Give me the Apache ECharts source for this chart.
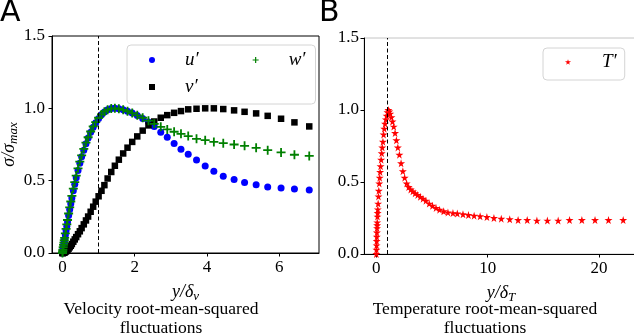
<!DOCTYPE html>
<html>
<head>
<meta charset="utf-8">
<script src="https://cdn.jsdelivr.net/npm/echarts@6/dist/echarts.min.js"></script>
<style>
  html, body { margin: 0; padding: 0; background: #fff; }
  #chart { width: 634px; height: 334px; }
</style>
</head>
<body>
<div id="chart"></div>
<script>
// wall-normal positions, panel A (y / delta_nu)
const yGridA = [0, 0.005, 0.01, 0.02, 0.03, 0.04, 0.05, 0.06, 0.08, 0.10, 0.12, 0.14, 0.17, 0.20, 0.23, 0.26,
  0.30, 0.34, 0.38, 0.43, 0.48, 0.53, 0.59, 0.65, 0.71, 0.78, 0.85, 0.92, 1.00, 1.08, 1.16, 1.25, 1.35, 1.45,
  1.56, 1.68, 1.80, 1.93, 2.07, 2.22, 2.38, 2.54, 2.72, 2.90, 3.09, 3.28, 3.48, 3.71, 3.95, 4.19, 4.45, 4.75,
  5.04, 5.36, 5.68, 6.05, 6.42, 6.83]
const uRms = [0, 0.01, 0.02, 0.035, 0.05, 0.065, 0.08, 0.095, 0.125, 0.155, 0.185, 0.215, 0.26, 0.30, 0.34, 0.38,
  0.43, 0.475, 0.52, 0.57, 0.62, 0.665, 0.71, 0.755, 0.795, 0.835, 0.87, 0.90, 0.93, 0.955, 0.975, 0.99, 0.998, 1.0,
  0.997, 0.99, 0.98, 0.967, 0.95, 0.93, 0.905, 0.875, 0.835, 0.80, 0.757, 0.718, 0.683, 0.642, 0.602, 0.565, 0.531, 0.508,
  0.487, 0.471, 0.457, 0.450, 0.443, 0.436]
const vRms = [0, 0, 0, 0.001, 0.002, 0.003, 0.004, 0.005, 0.008, 0.012, 0.016, 0.021, 0.03, 0.04, 0.05, 0.062,
  0.078, 0.094, 0.11, 0.13, 0.15, 0.172, 0.198, 0.225, 0.252, 0.285, 0.32, 0.355, 0.392, 0.43, 0.469, 0.515, 0.56, 0.603,
  0.645, 0.688, 0.728, 0.768, 0.806, 0.846, 0.882, 0.909, 0.935, 0.953, 0.969, 0.981, 0.993, 0.997, 1.0, 1.0, 0.995, 0.986,
  0.976, 0.965, 0.948, 0.928, 0.903, 0.875]
const wRms = [0, 0.012, 0.024, 0.04, 0.056, 0.072, 0.088, 0.104, 0.135, 0.167, 0.198, 0.228, 0.273, 0.315, 0.356, 0.395,
  0.445, 0.49, 0.535, 0.585, 0.632, 0.675, 0.72, 0.763, 0.80, 0.84, 0.875, 0.905, 0.935, 0.958, 0.977, 0.99, 0.998, 1.0,
  0.997, 0.99, 0.98, 0.967, 0.952, 0.935, 0.915, 0.893, 0.872, 0.854, 0.838, 0.824, 0.808, 0.789, 0.78, 0.768, 0.759, 0.75,
  0.741, 0.727, 0.711, 0.695, 0.679, 0.671]

// panel B (y / delta_T)
const yGridT = [0, 0.01, 0.02, 0.03, 0.04, 0.05, 0.06, 0.07, 0.08, 0.10, 0.115, 0.13, 0.16, 0.19, 0.22, 0.26, 0.30, 0.34,
  0.38, 0.43, 0.48, 0.53, 0.59, 0.65, 0.71, 0.78, 0.85, 0.92, 1.00, 1.08, 1.16, 1.25, 1.35, 1.45, 1.56, 1.68, 1.80, 1.93,
  2.07, 2.22, 2.38, 2.54, 2.72, 2.90, 3.09, 3.28, 3.48, 3.71, 3.95, 4.19, 4.45, 4.75, 5.04, 5.36, 5.68, 6.05, 6.43, 6.88,
  7.27, 7.78, 8.27, 8.78, 9.32, 9.93, 10.56, 11.22, 11.98, 12.73, 13.55, 14.42, 15.36, 16.33, 17.35, 18.46, 19.64, 20.85, 22.17]
const tRms = [0, 0.03, 0.06, 0.09, 0.12, 0.15, 0.18, 0.20, 0.22, 0.26, 0.285, 0.31, 0.35, 0.40, 0.44, 0.49, 0.53, 0.57,
  0.61, 0.655, 0.70, 0.74, 0.78, 0.83, 0.87, 0.905, 0.935, 0.96, 0.985, 1.0, 0.99, 0.975, 0.95, 0.92, 0.885, 0.84, 0.79, 0.74,
  0.69, 0.63, 0.575, 0.53, 0.49, 0.465, 0.448, 0.435, 0.422, 0.41, 0.397, 0.384, 0.37, 0.35, 0.335, 0.32, 0.308, 0.297, 0.289,
  0.284, 0.281, 0.276, 0.271, 0.266, 0.262, 0.257, 0.25, 0.245, 0.241, 0.236, 0.236, 0.232, 0.232, 0.232, 0.236, 0.236, 0.236,
  0.236, 0.236]

const xTicksA = [0, 2, 4, 6]
const xTicksB = [0, 10, 20]

const serif = 'Liberation Serif'
const plusPath = 'path://M4,0H6V4H10V6H6V10H4V6H0V4H4Z'
const starPath = 'path://M50,0L61,35L98,35L68,57L79,91L50,70L21,91L32,57L2,35L39,35Z'

const pairs = (xs, ys) => xs.map((x, i) => [x, ys[i]])

const mathRich = {
  m: { fontFamily: serif, fontStyle: 'italic', fontSize: 18, lineHeight: 20, verticalAlign: 'top', color: '#000' },
  s: { fontFamily: serif, fontStyle: 'italic', fontSize: 13, lineHeight: 14, verticalAlign: 'bottom', padding: [9, 0, 0, 0], color: '#000' },
}

const xAxisFor = (grid, min, max, ticks, name) => ({
  gridIndex: grid,
  type: 'value',
  min,
  max,
  name,
  nameLocation: 'middle',
  nameGap: 19,
  nameTextStyle: { rich: mathRich },
  axisLine: { show: true, onZero: false, lineStyle: { color: '#000', width: 1 } },
  axisTick: { show: true, customValues: ticks, length: 3.5, lineStyle: { color: '#000' } },
  axisLabel: { customValues: ticks, margin: 6, color: '#000', fontFamily: serif, fontSize: 17 },
  splitLine: { show: false },
})

const yAxisFor = (grid, margin, name) => ({
  gridIndex: grid,
  type: 'value',
  min: 0,
  max: 1.5,
  interval: 0.5,
  name,
  nameLocation: 'middle',
  nameGap: 28,
  nameTextStyle: { rich: mathRich },
  axisLine: { show: true, onZero: false, lineStyle: { color: '#000', width: 1 } },
  axisTick: { show: true, length: 3.5, lineStyle: { color: '#000' } },
  axisLabel: { margin, color: '#000', fontFamily: serif, fontSize: 17, formatter: (v) => v.toFixed(1) },
  splitLine: { show: false },
})

const dashed = {
  silent: true,
  symbol: 'none',
  label: { show: false },
  lineStyle: { color: '#000', type: [4, 2.5], width: 1, opacity: 1 },
  data: [{ xAxis: 1 }],
}

const legendText = { fontFamily: serif, fontStyle: 'italic', fontSize: 19, lineHeight: 20, color: '#000', padding: [0, 0, 0, 25] }

const option = {
  animation: false,
  grid: [
    { left: 52, top: 36, width: 267, height: 217, show: true, borderColor: '#000', borderWidth: 1, outerBoundsMode: 'none' },
    { left: 364, top: 38, width: 274, height: 216, show: true, borderColor: '#c4c4c4', borderWidth: 1, outerBoundsMode: 'none' },
  ],
  xAxis: [
    xAxisFor(0, -0.29, 7.1, xTicksA, '{m|y/δ}{s|ν}'),
    xAxisFor(1, -1.11, 23.5, xTicksB, '{m|y/δ}{s|T}'),
  ],
  yAxis: [
    yAxisFor(0, 7, '{m|σ/σ}{s|max}'),
    yAxisFor(1, 5, ''),
  ],
  legend: [
    {
      data: [{ name: 'u′', icon: 'circle' }, { name: 'w′', icon: plusPath }],
      left: 127, top: 45, itemWidth: 6, itemHeight: 6, itemGap: 54,
      padding: [5, 10, 34, 22], backgroundColor: 'rgba(255,255,255,0.8)',
      borderColor: '#d4d4d4', borderWidth: 1, borderRadius: 4,
      textStyle: legendText, selectedMode: false,
    },
    {
      data: [{ name: 'v′', icon: 'rect' }],
      left: 149, top: 77, itemWidth: 6, itemHeight: 6, padding: 0, z: 10,
      textStyle: legendText, selectedMode: false,
    },
    {
      data: [{ name: 'T′', icon: starPath }],
      left: 543, top: 48, itemWidth: 6, itemHeight: 6,
      padding: [4, 8, 8, 22], backgroundColor: 'rgba(255,255,255,0.8)',
      borderColor: '#d4d4d4', borderWidth: 1, borderRadius: 4,
      textStyle: { ...legendText, padding: [0, 0, 0, 26] }, selectedMode: false,
    },
  ],
  graphic: [
    { type: 'text', left: 0, top: -2, style: { text: 'A', font: '30px "DejaVu Sans"', fill: '#000' } },
    { type: 'text', left: 319, top: -2, style: { text: 'B', font: '30px "DejaVu Sans"', fill: '#000' } },
    { type: 'text', x: 161, y: 300, style: { text: 'Velocity root-mean-squared\nfluctuations', font: '17.5px "Liberation Serif"', fill: '#000', textAlign: 'center', lineHeight: 19 } },
    { type: 'text', x: 485, y: 300, style: { text: 'Temperature root-mean-squared\nfluctuations', font: '17.5px "Liberation Serif"', fill: '#000', textAlign: 'center', lineHeight: 19 } },
  ],
  series: [
    { type: 'scatter', name: 'u′', xAxisIndex: 0, yAxisIndex: 0, data: pairs(yGridA, uRms), symbol: 'circle', symbolSize: 7, itemStyle: { color: '#0000ff', opacity: 1 }, emphasis: { disabled: true } },
    { type: 'scatter', name: 'v′', xAxisIndex: 0, yAxisIndex: 0, data: pairs(yGridA, vRms), symbol: 'rect', symbolSize: 6.5, itemStyle: { color: '#000', opacity: 1 }, emphasis: { disabled: true } },
    { type: 'scatter', name: 'w′', xAxisIndex: 0, yAxisIndex: 0, data: pairs(yGridA, wRms), symbol: plusPath, symbolSize: 9, itemStyle: { color: '#008000', opacity: 1 }, emphasis: { disabled: true }, markLine: dashed },
    { type: 'scatter', name: 'T′', xAxisIndex: 1, yAxisIndex: 1, data: pairs(yGridT, tRms), symbol: starPath, symbolSize: 8, itemStyle: { color: '#ff0000', opacity: 1 }, emphasis: { disabled: true }, markLine: dashed },
  ],
}

const chart = echarts.init(document.getElementById('chart'), null, { renderer: 'canvas' })
chart.setOption(option)
</script>
</body>
</html>
